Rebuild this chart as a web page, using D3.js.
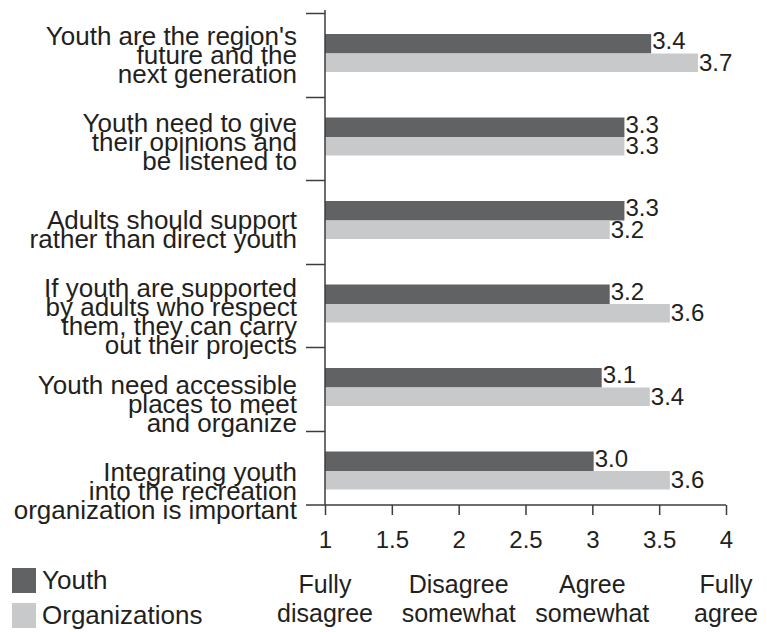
<!DOCTYPE html>
<html>
<head>
<meta charset="utf-8">
<script src="https://cdn.jsdelivr.net/npm/d3@7"></script>
<style>
body { margin: 0; background: #fff; }
text { font-family: "Liberation Sans", Arial, sans-serif; fill: #231f20; }
</style>
</head>
<body>
<div id="chart"></div>
<script>
var width = 767, height = 632;

// statements, top to bottom
var categories = [
  ["Youth are the region's", "future and the", "next generation"],
  ["Youth need to give", "their opinions and", "be listened to"],
  ["Adults should support", "rather than direct youth"],
  ["If youth are supported", "by adults who respect", "them, they can carry", "out their projects"],
  ["Youth need accessible", "places to meet", "and organize"],
  ["Integrating youth", "into the recreation", "organization is important"]
];
// bar lengths
var youth = [3.44, 3.24, 3.24, 3.13, 3.07, 3.01];
var orgs  = [3.79, 3.24, 3.13, 3.58, 3.43, 3.58];
// printed value labels
var youthLabels = ["3.4", "3.3", "3.3", "3.2", "3.1", "3.0"];
var orgLabels   = ["3.7", "3.3", "3.2", "3.6", "3.4", "3.6"];

var xTicks = [1, 1.5, 2, 2.5, 3, 3.5, 4];
var scaleLabels = [[1, "Fully", "disagree"], [2, "Disagree", "somewhat"], [3, "Agree", "somewhat"], [4, "Fully", "agree"]];
var seriesNames = ["Youth", "Organizations"];
var colors = ["#616264", "#c8c9cb"];

var svg = d3.select("#chart").append("svg")
  .attr("width", width)
  .attr("height", height);

var x = d3.scaleLinear().domain([1, 4]).range([325, 726]);
var y = d3.scaleBand().domain(d3.range(categories.length)).range([13, 514]);
// labels sit a bit lower than the bands, more so toward the bottom
var yLabel = d3.scalePoint().domain(d3.range(categories.length)).range([64, 500]);
var axisY = 505;
var barH = 19.5, barOff = 21;

// bars
var g = svg.append("g");
var rows = g.selectAll("g.row")
  .data(categories.map(function(c, i) { return i; }))
  .enter().append("g")
  .attr("class", "row")
  .attr("transform", function(i) { return "translate(0," + (y(i) + barOff) + ")"; });

rows.append("rect")
  .attr("x", x(1))
  .attr("y", 0)
  .attr("width", function(i) { return x(youth[i]) - x(1); })
  .attr("height", barH)
  .attr("fill", colors[0]);

rows.append("rect")
  .attr("x", x(1))
  .attr("y", barH)
  .attr("width", function(i) { return x(orgs[i]) - x(1); })
  .attr("height", barH - 1)
  .attr("fill", colors[1]);

rows.append("text")
  .attr("x", function(i) { return x(youth[i]) + 1; })
  .attr("y", 15)
  .style("font-size", "24px")
  .text(function(i) { return youthLabels[i]; });

rows.append("text")
  .attr("x", function(i) { return x(orgs[i]) + 1; })
  .attr("y", barH + 17)
  .style("font-size", "24px")
  .text(function(i) { return orgLabels[i]; });

// category labels
var lineH = 19;
g.selectAll("text.cat")
  .data(categories)
  .enter().append("text")
  .attr("class", "cat")
  .attr("text-anchor", "end")
  .style("font-size", "26px")
  .each(function(lines, i) {
    var y0 = yLabel(i) - (lines.length - 1) * lineH / 2;
    d3.select(this).selectAll("tspan")
      .data(lines)
      .enter().append("tspan")
      .attr("x", 297)
      .attr("y", function(d, j) { return y0 + j * lineH; })
      .text(function(d) { return d; });
  });

// left axis line with band separators
var ax = svg.append("g").attr("stroke", "#3c3c3c").attr("stroke-width", 1.5);
ax.append("line").attr("x1", x(1)).attr("x2", x(1)).attr("y1", 10).attr("y2", axisY);
var bounds = y.domain().map(function(i) { return y(i); });
ax.selectAll("line.sep").data(bounds).enter().append("line")
  .attr("x1", 306).attr("x2", x(1))
  .attr("y1", function(d) { return Math.round(d) + 0.5; })
  .attr("y2", function(d) { return Math.round(d) + 0.5; });

// bottom axis
var xAxis = svg.append("g")
  .attr("transform", "translate(0," + axisY + ")")
  .call(d3.axisBottom(x).tickValues(xTicks).tickSize(10).tickPadding(16).tickFormat(d3.format("")));
xAxis.select(".domain").attr("d", "M306,0H726").attr("stroke", "#3c3c3c").attr("stroke-width", 1.5);
xAxis.selectAll(".tick line").attr("stroke", "#3c3c3c").attr("stroke-width", 1.5);
xAxis.selectAll(".tick text").style("font-size", "24px").attr("fill", "#231f20")
  .style("font-family", "Liberation Sans, Arial, sans-serif");

// scale descriptions
var sl = svg.append("g").selectAll("text").data(scaleLabels).enter().append("text")
  .attr("text-anchor", "middle")
  .style("font-size", "25px");
sl.append("tspan").attr("x", function(d) { return x(d[0]); }).attr("y", 593).text(function(d) { return d[1]; });
sl.append("tspan").attr("x", function(d) { return x(d[0]); }).attr("y", 622).text(function(d) { return d[2]; });

// legend
var leg = svg.append("g").selectAll("g").data(seriesNames).enter().append("g")
  .attr("transform", function(d, i) { return "translate(12," + (568 + i * 35) + ")"; });
leg.append("rect").attr("width", 24).attr("height", 25)
  .attr("fill", function(d, i) { return colors[i]; });
leg.append("text").attr("x", 30).attr("y", 21)
  .style("font-size", "26px")
  .text(function(d) { return d; });
</script>
</body>
</html>
